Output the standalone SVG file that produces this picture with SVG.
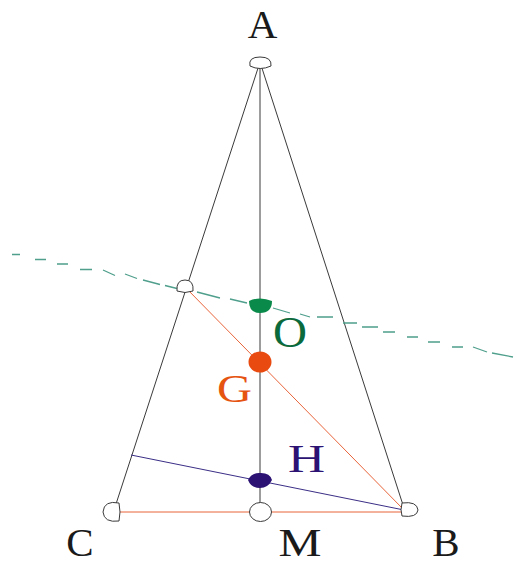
<svg xmlns="http://www.w3.org/2000/svg" width="517" height="565" viewBox="0 0 517 565">
<defs>
<style>
.ln{fill:none;stroke:#3a3a3a;stroke-width:1}
.or{fill:none;stroke:#e8643a;stroke-width:1}
.bl{fill:none;stroke:#3a2e86;stroke-width:1}
.ds{fill:none;stroke:#4f9f8c;stroke-width:1.3}
.op{fill:#fff;stroke:#3a3a3a;stroke-width:1}
.lb{font-family:"Liberation Serif","Times New Roman",serif;text-anchor:middle}
</style>
</defs>
<rect width="517" height="565" fill="#fff"/>
<g id="connectors">
<line class="ln" x1="260" y1="62" x2="116" y2="504"/>
<line class="ln" x1="260" y1="62" x2="403" y2="505"/>
<line class="ln" x1="260" y1="62" x2="260" y2="503"/>
<line class="or" x1="119" y1="512" x2="402" y2="512"/>
<line class="or" x1="186" y1="288" x2="404" y2="510"/>
<line class="bl" x1="131" y1="455" x2="404" y2="510"/>
<path class="ds" d="M12,254.5 L20,254.5 M35,259.5 L46,259.5 M57,264 L68,264 M80,269.5 L92,269.5 M103,270 L115,275.5 M125,274 L137,278.5 M143,280 L160,284.5 M165,285.5 L177,288.5 M197,292 L220,298 M230,299 L247,303 M273,308 L290,313 M300,314 L310,317 M317,317 L333,317 M343,323 L357,323 M362,327 L378,327 M383,332 L395,332 M407,337 L418,337 M428,342 L440,342 M452,347 L463,347 M473,347 L487,352 M492,353 L513,357"/>
</g>
<g id="A">
<path class="op" d="M250,66 Q248,57 260,57 Q272,57 271,66 Q260,71 250,66 Z"/>
<text class="lb" x="262.5" y="38" font-size="41" fill="#1a1a1a">A</text>
</g>
<g id="D">
<path class="op" d="M177,291 Q176,280 185,280 Q194,280 193,291 Q185,294 177,291 Z"/>
</g>
<g id="C">
<path class="op" d="M119,503 Q104,500 103,512 Q104,523 119,521 Q121,512 119,503 Z"/>
<text class="lb" x="80" y="556" font-size="41" fill="#1a1a1a">C</text>
</g>
<g id="M">
<ellipse class="op" cx="260.5" cy="512" rx="11" ry="9.5"/>
<text class="lb" x="300" y="556" font-size="41" fill="#1a1a1a" textLength="43" lengthAdjust="spacingAndGlyphs">M</text>
</g>
<g id="B">
<path class="op" d="M402,503 Q417,501 418,510 Q417,518 402,516 Q400,510 402,503 Z"/>
<text class="lb" x="446" y="556" font-size="41" fill="#1a1a1a">B</text>
</g>
<g id="O">
<path d="M249,301 Q260,296 272,301 Q272,313 260,313 Q249,313 249,301 Z" fill="#0a8a4a"/>
<text class="lb" x="290" y="347" font-size="44" fill="#0b6a3c" textLength="34" lengthAdjust="spacingAndGlyphs">O</text>
</g>
<g id="G">
<ellipse cx="260" cy="362" rx="11.5" ry="10.5" fill="#e84a10"/>
<text class="lb" x="234.5" y="402" font-size="41" fill="#e65412" textLength="35" lengthAdjust="spacingAndGlyphs">G</text>
</g>
<g id="H">
<path d="M248,480 Q252,472 261,473 Q270,473 272,480 Q268,488 260,488 Q251,488 248,480 Z" fill="#2b1273"/>
<text class="lb" x="306.5" y="472" font-size="41" fill="#2b1273" textLength="37" lengthAdjust="spacingAndGlyphs">H</text>
</g>
</svg>
